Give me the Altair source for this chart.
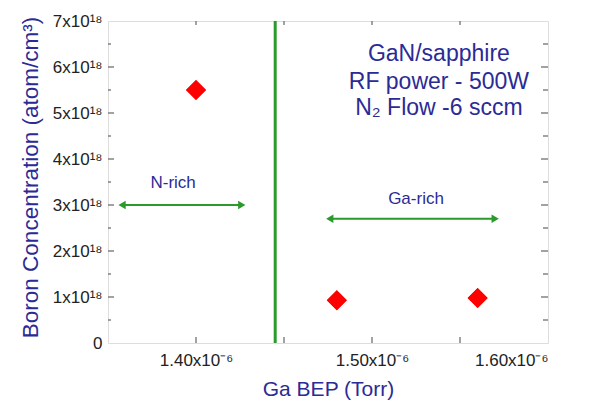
import altair as alt
import pandas as pd

# Data (x in units of 1e-6 Torr, y in units of 1e18 atom/cm3)
ga_bep = [1.40, 1.48, 1.56]
boron = [5.5, 0.93, 0.98]

boundary_x = [1.445]

arrow_names = ["N-rich", "Ga-rich"]
arrow_x_start = [1.358, 1.476]
arrow_x_end = [1.426, 1.570]
arrow_y = [3.0, 2.7]
label_x = [1.387, 1.525]
label_y = [3.47, 3.13]

note_lines = ["GaN/sapphire", "RF power - 500W", "N\u2082 Flow -6 sccm"]
note_x = [1.538, 1.538, 1.538]
note_y = [6.28, 5.67, 5.10]

x_major = [1.40, 1.50, 1.60]
x_ticks = [1.40, 1.45, 1.50, 1.55]
y_major = [0, 1, 2, 3, 4, 5, 6, 7]
y_ticks_major = [1, 2, 3, 4, 5, 6]
y_ticks_minor = [0.5, 1.5, 2.5, 3.5, 4.5, 5.5, 6.5]

W, H = 440, 322
GREEN = "#2a9a2a"
NAVY = "#2b2b95"
FONT = "Liberation Sans"

xs = alt.Scale(domain=[1.35, 1.60], nice=False, zero=False)
ys = alt.Scale(domain=[0, 7], nice=False)

pts = pd.DataFrame({"x": ga_bep, "y": boron})
arrows = pd.DataFrame({"name": arrow_names, "x1": arrow_x_start, "x2": arrow_x_end,
                       "y": arrow_y, "lx": label_x, "ly": label_y})
notes = pd.DataFrame({"t": note_lines, "x": note_x, "y": note_y})

x_axis = alt.Axis(values=x_major, ticks=False, domain=False, grid=False,
                  labelExpr="format(datum.value,'.2f') + 'x10\u207b\u2076'",
                  labelFont=FONT, labelFontSize=17, labelColor="#222222", labelPadding=9,
                  title="Ga BEP (Torr)", titleFont=FONT, titleFontSize=21, titleFontWeight="normal",
                  titleColor=NAVY, titleX=W / 2, titleY=52, titleBaseline="alphabetic")
y_axis = alt.Axis(values=y_major, ticks=False, domain=False, grid=False,
                  labelExpr="datum.value == 0 ? '0' : format(datum.value,'d') + 'x10\u00b9\u2078'",
                  labelFont=FONT, labelFontSize=17, labelColor="#222222", labelPadding=6,
                  title="Boron Concentration (atom/cm\u00b3)", titleFont=FONT, titleFontSize=22.5,
                  titleFontWeight="normal", titleColor=NAVY, titleX=-78, titleY=H / 2 - 5,
                  titleAngle=-90, titleAlign="center", titleBaseline="middle")

base_pts = alt.Chart(pts).mark_point(shape="diamond", filled=True, size=400, color="#ff0000", opacity=1).encode(
    x=alt.X("x:Q", scale=xs, axis=x_axis),
    y=alt.Y("y:Q", scale=ys, axis=y_axis),
)

TICKC = "#707070"
xt = pd.DataFrame({"v": x_ticks})
ytM = pd.DataFrame({"v": y_ticks_major})
ytm = pd.DataFrame({"v": y_ticks_minor})

tick_bottom = alt.Chart(xt).mark_rule(color=TICKC, strokeWidth=1.3).encode(
    x=alt.X("v:Q", scale=xs), y=alt.value(H), y2=alt.value(H - 6))
tick_top = alt.Chart(xt).mark_rule(color=TICKC, strokeWidth=1.3).encode(
    x=alt.X("v:Q", scale=xs), y=alt.value(0), y2=alt.value(4))
tick_leftM = alt.Chart(ytM).mark_rule(color=TICKC, strokeWidth=1.3).encode(
    y=alt.Y("v:Q", scale=ys), x=alt.value(0), x2=alt.value(6))
tick_leftm = alt.Chart(ytm).mark_rule(color=TICKC, strokeWidth=1.3).encode(
    y=alt.Y("v:Q", scale=ys), x=alt.value(0), x2=alt.value(3))
tick_rightM = alt.Chart(ytM).mark_rule(color=TICKC, strokeWidth=1.3).encode(
    y=alt.Y("v:Q", scale=ys), x=alt.value(W), x2=alt.value(W - 7))
tick_rightm = alt.Chart(ytm).mark_rule(color=TICKC, strokeWidth=1.3).encode(
    y=alt.Y("v:Q", scale=ys), x=alt.value(W), x2=alt.value(W - 5))

vline = alt.Chart(pd.DataFrame({"x": boundary_x})).mark_rule(color=GREEN, strokeWidth=3).encode(
    x=alt.X("x:Q", scale=xs))

arrow_line = alt.Chart(arrows).mark_rule(color=GREEN, strokeWidth=2).encode(
    x=alt.X("x1:Q", scale=xs), x2="x2:Q", y=alt.Y("y:Q", scale=ys))
head_l = alt.Chart(arrows).mark_point(shape="triangle-left", filled=True, size=70, color=GREEN, opacity=1).encode(
    x=alt.X("x1:Q", scale=xs), y=alt.Y("y:Q", scale=ys))
head_r = alt.Chart(arrows).mark_point(shape="triangle-right", filled=True, size=70, color=GREEN, opacity=1).encode(
    x=alt.X("x2:Q", scale=xs), y=alt.Y("y:Q", scale=ys))
arrow_labels = alt.Chart(arrows).mark_text(font=FONT, fontSize=17, color=NAVY).encode(
    x=alt.X("lx:Q", scale=xs), y=alt.Y("ly:Q", scale=ys), text="name:N")

note = alt.Chart(notes).mark_text(font=FONT, fontSize=23, color=NAVY).encode(
    x=alt.X("x:Q", scale=xs), y=alt.Y("y:Q", scale=ys), text="t:N")

chart = alt.layer(
    base_pts, tick_bottom, tick_top, tick_leftM, tick_leftm, tick_rightM, tick_rightm,
    vline, arrow_line, head_l, head_r, arrow_labels, note, base_pts
).properties(
    width=W, height=H,
    autosize=alt.AutoSizeParams(type="none"),
    padding={"left": 100, "top": 13, "right": 40, "bottom": 57},
).configure_view(
    stroke="#808080", strokeWidth=1.5
).configure(background="white")

chart.save("out.html", embed_options={"renderer": "svg", "actions": False})
